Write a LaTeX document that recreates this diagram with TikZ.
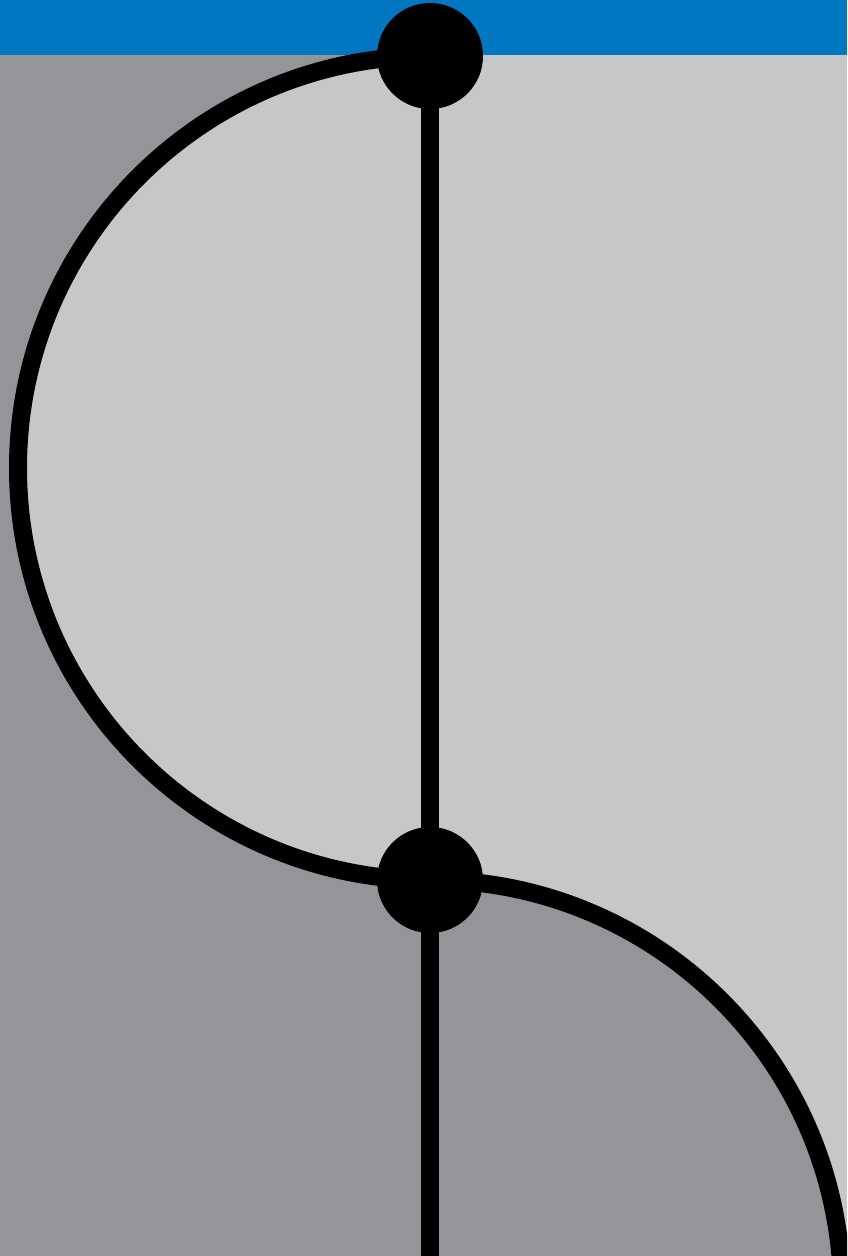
\documentclass[tikz,border=0pt]{standalone}
\definecolor{bluebar}{HTML}{0077C0}
\definecolor{darkg}{RGB}{147,149,152}
\definecolor{lightg}{RGB}{198,199,201}
\tikzset{
  dot/.style={circle,fill=black,inner sep=0pt,minimum size=106pt},
  wire/.style={draw=black,line width=18pt}
}
\begin{document}
\begin{tikzpicture}[x=1pt,y=-1pt]
\useasboundingbox (0,0) rectangle (847,1256);
\clip (0,0) rectangle (847,1256);
\fill[darkg] (0,0) rectangle (847,1256);
\fill[lightg] (430,55) rectangle (847,1256);
\fill[lightg] (430,56) arc[start angle=270,end angle=90,radius=412] -- cycle;
\fill[darkg] (430,880) arc[start angle=-90,end angle=0,radius=412] -- (430,1292) -- cycle;
\fill[bluebar] (0,0) rectangle (847,55);
\coordinate (top) at (430,56);
\coordinate (mid) at (430,880);
\coordinate (bot) at (430,1270);
\draw[wire] (top) arc[start angle=270,end angle=90,radius=412];
\draw[wire] (mid) arc[start angle=-90,end angle=0,radius=412];
\draw[wire] (top) -- (bot);
\node[dot] (topdot) at (top) {};
\node[dot] (middot) at (mid) {};
\end{tikzpicture}
\end{document}
